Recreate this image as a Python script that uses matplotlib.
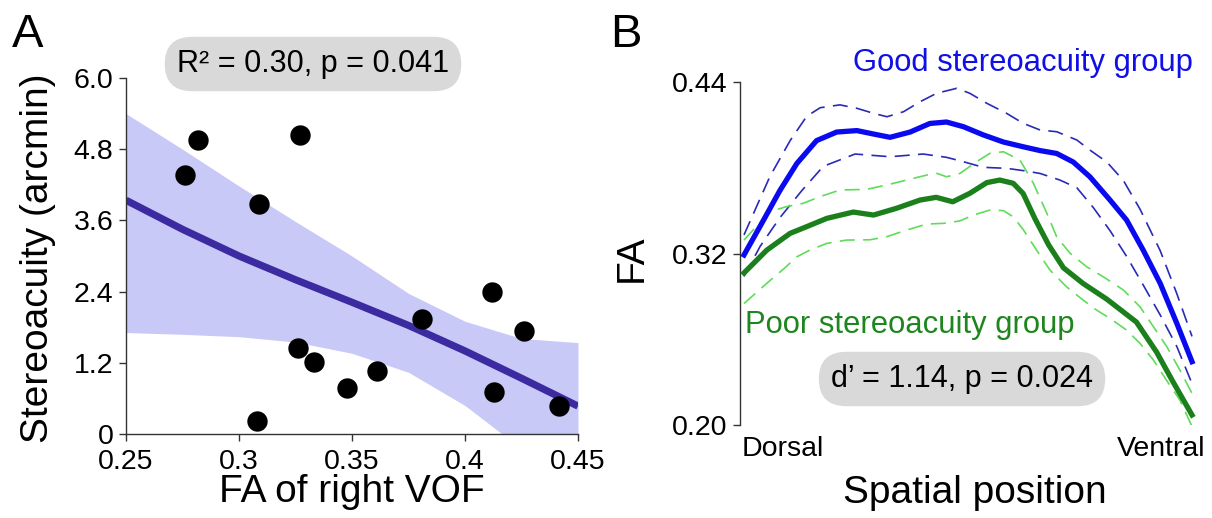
import numpy as np
import matplotlib
matplotlib.use("Agg")
import matplotlib.pyplot as plt
import matplotlib.transforms as mtransforms

plt.rcParams['font.family'] = ['Liberation Sans', 'DejaVu Sans']

# ---------------- Panel A data ----------------
fa_vof = [0.276, 0.282, 0.327, 0.309, 0.308, 0.326, 0.333, 0.348, 0.361, 0.381, 0.412, 0.413, 0.426, 0.4415]
stereo = [4.36, 4.95, 5.04, 3.88, 0.22, 1.45, 1.22, 0.77, 1.07, 1.94, 2.39, 0.70, 1.74, 0.475]

fit_x = [0.25, 0.275, 0.30, 0.325, 0.35, 0.375, 0.40, 0.425, 0.45]
fit_y = [3.94, 3.45, 3.00, 2.60, 2.22, 1.83, 1.40, 0.94, 0.47]
ci_upper = [5.40, 4.80, 4.18, 3.58, 3.00, 2.37, 1.90, 1.61, 1.54]
ci_lower = [1.71, 1.68, 1.64, 1.55, 1.36, 1.04, 0.48, -0.25, -0.95]

a_xticks = [0.25, 0.30, 0.35, 0.40, 0.45]
a_xticklabels = ["0.25", "0.3", "0.35", "0.4", "0.45"]
a_yticks = [0, 1.2, 2.4, 3.6, 4.8, 6.0]
a_yticklabels = ["0", "1.2", "2.4", "3.6", "4.8", "6.0"]

# ---------------- Panel B data ----------------
good_x = [0, 4.3, 8.0, 11.8, 16.2, 20.7, 25.2, 28.9, 32.6, 37.1, 41.5, 45.2, 49.0, 53.4, 57.9,
          62.3, 66.1, 69.8, 73.5, 77.2, 81.7, 85.4, 89.1, 92.9, 96.6, 100]
good_mean = [0.319, 0.343, 0.364, 0.383, 0.399, 0.405, 0.406, 0.4036, 0.4013, 0.405, 0.411, 0.412,
             0.4087, 0.403, 0.398, 0.3947, 0.392, 0.390, 0.384, 0.3737, 0.3574, 0.3434, 0.3224,
             0.2991, 0.2712, 0.2443]

good_up_x = [0, 5.8, 10.3, 14.0, 17.0, 21.4, 25.2, 28.9, 31.9, 35.6, 39.3, 43.0, 47.5, 50.4, 54.2,
             58.6, 62.3, 66.1, 69.8, 74.3, 77.2, 81.0, 84.7, 88.4, 92.9, 96.6, 100]
good_upper = [0.333, 0.374, 0.399, 0.416, 0.422, 0.424, 0.4216, 0.4181, 0.4157, 0.4192, 0.4262,
              0.4321, 0.4356, 0.4321, 0.4251, 0.4181, 0.4111, 0.4064, 0.4052, 0.3994, 0.3924,
              0.3840, 0.371, 0.351, 0.322, 0.292, 0.262]

good_lo_x = [0, 3.6, 8.0, 12.9, 17.7, 24.8, 32.6, 40.0, 45.2, 49.0, 53.4, 58.6, 62.3, 66.1, 70.5,
             74.3, 78.0, 81.7, 85.4, 89.1, 92.9, 96.6, 100]
good_lower = [0.304, 0.325, 0.345, 0.364, 0.381, 0.3896, 0.3877, 0.3896, 0.3873, 0.3842, 0.3803,
              0.3796, 0.3780, 0.3760, 0.3714, 0.366, 0.352, 0.336, 0.318, 0.298, 0.277, 0.255, 0.229]

poor_x = [0, 5.1, 10.3, 14.0, 18.5, 24.4, 28.9, 34.0, 39.3, 42.9, 46.6, 50.4, 54.2, 57.1, 60.1,
          62.3, 65.0, 68.0, 71.3, 75.7, 81.0, 87.6, 92.1, 95.8, 100]
poor_mean = [0.3064, 0.3224, 0.3341, 0.3388, 0.3446, 0.3490, 0.3469, 0.3516, 0.3574, 0.3593,
             0.3562, 0.3621, 0.3696, 0.3714, 0.3691, 0.3620, 0.3440, 0.3260, 0.3100, 0.2990,
             0.2880, 0.2720, 0.2510, 0.2300, 0.2070]

poor_up_x = [0, 5.8, 9.5, 13.2, 17.0, 21.4, 27.4, 31.8, 36.3, 40.8, 43.0, 45.2, 48.2, 51.9, 54.9,
             57.9, 61.6, 64.6, 67.6, 69.8, 72.8, 76.5, 80.2, 84.7, 88.4, 91.4, 94.4, 97.3, 100]
poor_upper = [0.3294, 0.3493, 0.3528, 0.3551, 0.3598, 0.3644, 0.3649, 0.3679, 0.3714, 0.3749,
              0.3761, 0.3737, 0.3760, 0.3842, 0.3901, 0.3912, 0.3854, 0.3691, 0.3481, 0.3317,
              0.3201, 0.3107, 0.3037, 0.2944, 0.2827, 0.2687, 0.2547, 0.2384, 0.2221]

poor_lo_x = [0, 5.4, 9.0, 11.8, 14.7, 18.5, 22.9, 28.1, 31.8, 36.3, 40.8, 44.5, 48.2, 51.2, 54.9,
             57.9, 60.1, 62.4, 65.3, 68.3, 72.0, 75.7, 78.7, 81.7, 85.4, 88.4, 91.4, 94.3, 97.3, 100]
poor_lower = [0.285, 0.300, 0.3096, 0.3177, 0.3224, 0.3271, 0.3294, 0.3296, 0.3317, 0.3364,
              0.3406, 0.3411, 0.3428, 0.3469, 0.3504, 0.3500, 0.3457, 0.3364, 0.3224, 0.3084,
              0.2967, 0.2874, 0.2804, 0.2746, 0.2664, 0.2571, 0.2454, 0.2314, 0.2174, 0.199]

b_yticks = [0.20, 0.32, 0.44]
b_yticklabels = ["0.20", "0.32", "0.44"]

# ---------------- Figure ----------------
W, H = 1212, 518
fig = plt.figure(figsize=(W / 100, H / 100), dpi=100)

def px_axes(left, top, right, bottom):
    return fig.add_axes([left / W, 1 - bottom / H, (right - left) / W, (bottom - top) / H])

TICK_FS = 20.5
LABEL_FS = 28
SPINE_C = '#333333'

# Panel A
axA = px_axes(126, 78, 578, 434)
axA.fill_between(fit_x, ci_lower, ci_upper, color='#c9c9f7', linewidth=0, zorder=1)
axA.plot(fit_x, fit_y, color='#3b2aa0', linewidth=5.2, solid_capstyle='butt', zorder=2)
axA.scatter(fa_vof, stereo, s=215, color='black', zorder=3, linewidths=0)
axA.set_xlim(0.25, 0.45)
axA.set_ylim(0, 6.0)
axA.set_xticks(a_xticks)
axA.set_xticklabels(a_xticklabels)
axA.set_yticks(a_yticks)
axA.set_yticklabels(a_yticklabels)
for s in ['top', 'right']:
    axA.spines[s].set_visible(False)
for s in ['left', 'bottom']:
    axA.spines[s].set_color(SPINE_C)
    axA.spines[s].set_linewidth(1.0)
axA.tick_params(axis='both', direction='out', length=5, width=1.0, color=SPINE_C,
                labelsize=TICK_FS)
axA.tick_params(axis='x', pad=6)
axA.tick_params(axis='y', pad=4)

fig.text(38 / W, 1 - 258 / H, "Stereoacuity (arcmin)", rotation=90, fontsize=LABEL_FS,
         ha='center', va='center')
fig.text(352 / W, 1 - 492 / H, "FA of right VOF", fontsize=LABEL_FS, ha='center', va='center')
fig.text(12 / W, 1 - 35 / H, "A", fontsize=34, ha='left', va='center')
fig.text(313 / W, 1 - 64 / H, "R² = 0.30, p = 0.041", fontsize=22, ha='center', va='center',
         bbox=dict(boxstyle='round,pad=0.4,rounding_size=0.9', facecolor='#d9d9d9',
                   edgecolor='none'))

# Panel B
axB = px_axes(740, 82, 1196, 425)
dash = (9, 5)
axB.plot(good_up_x, good_upper, color='#2a2ab8', linewidth=1.2, dashes=dash, zorder=2)
axB.plot(good_lo_x, good_lower, color='#2a2ab8', linewidth=1.2, dashes=dash, zorder=2)
axB.plot(poor_up_x, poor_upper, color='#5fdc5a', linewidth=1.2, dashes=dash, zorder=2)
axB.plot(poor_lo_x, poor_lower, color='#5fdc5a', linewidth=1.2, dashes=dash, zorder=2)
axB.plot(poor_x, poor_mean, color='#1b7f1b', linewidth=3.8, zorder=3)
axB.plot(good_x, good_mean, color='#0a0af0', linewidth=3.8, zorder=4)
axB.set_xlim(-4 / 4.48, 100 + 4 / 4.48)
axB.set_ylim(0.20, 0.44)
axB.set_yticks(b_yticks)
axB.set_yticklabels(b_yticklabels)
axB.set_xticks([])
for s in ['top', 'right', 'bottom']:
    axB.spines[s].set_visible(False)
axB.spines['left'].set_color(SPINE_C)
axB.spines['left'].set_linewidth(1.0)
axB.tick_params(axis='y', direction='out', length=5, width=1.0, color=SPINE_C,
                labelsize=TICK_FS, pad=4)

trB = mtransforms.blended_transform_factory(axB.transData, axB.transAxes)
axB.text(-0.5, -0.07, "Dorsal", transform=trB, fontsize=TICK_FS, ha='left', va='center')
axB.text(102.9, -0.07, "Ventral", transform=trB, fontsize=TICK_FS, ha='right', va='center')

fig.text(975 / W, 1 - 493 / H, "Spatial position", fontsize=LABEL_FS, ha='center', va='center')
fig.text(632 / W, 1 - 258 / H, "FA", rotation=90, fontsize=LABEL_FS, ha='center', va='center')
fig.text(610 / W, 1 - 35 / H, "B", fontsize=34, ha='left', va='center')
fig.text(1193 / W, 1 - 71 / H, "Good stereoacuity group", fontsize=22.3, color='#1010e6',
         ha='right', va='baseline')
fig.text(745 / W, 1 - 333 / H, "Poor stereoacuity group", fontsize=22.3, color='#1f861f',
         ha='left', va='baseline')
fig.text(962 / W, 1 - 379 / H, "d’ = 1.14, p = 0.024", fontsize=22, ha='center', va='center',
         bbox=dict(boxstyle='round,pad=0.4,rounding_size=0.9', facecolor='#d9d9d9',
                   edgecolor='none'))

fig.savefig("out.png", dpi=100)
